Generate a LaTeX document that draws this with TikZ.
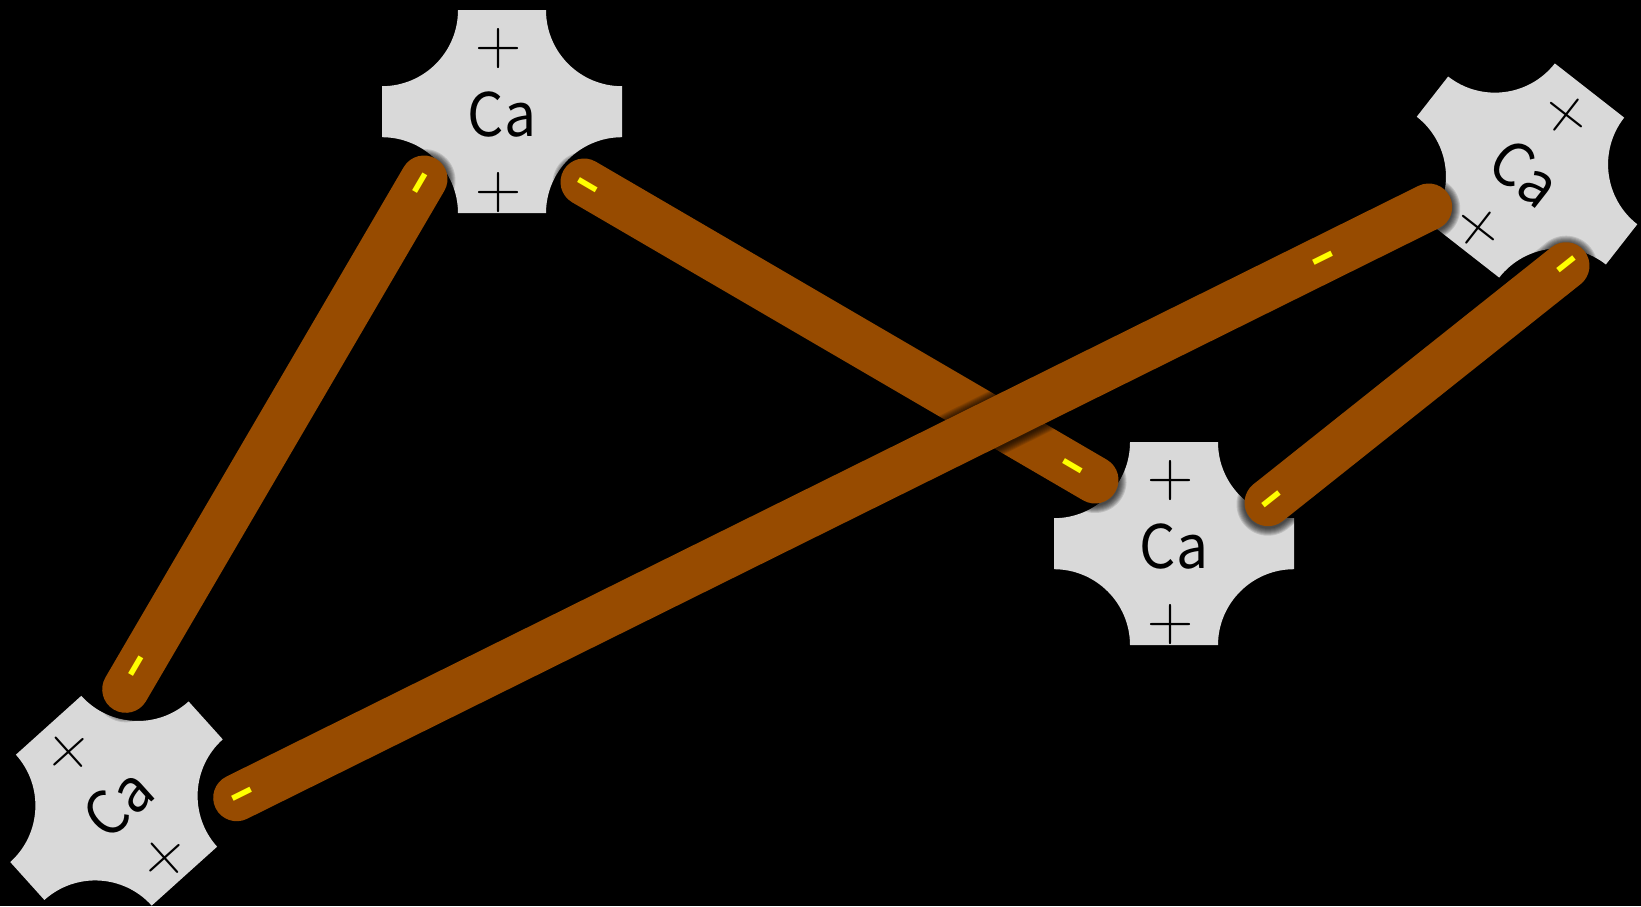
\documentclass[tikz,border=0pt]{standalone}
\usepackage{fontspec}
\newfontfamily\jpfont{Noto Sans CJK JP}
\definecolor{rodbrown}{RGB}{151,75,0}
\definecolor{cagray}{RGB}{217,217,217}
\definecolor{chargeyellow}{RGB}{255,255,0}
\tikzset{
  ionbody/.style={fill=cagray},
  calabel/.style={font=\jpfont\fontsize{60}{62}\selectfont, inner sep=0pt, transform shape, xscale=0.95},
  plusmark/.style={font=\fontsize{64}{66}\selectfont, inner sep=0pt, transform shape},
  rod/.style={draw=rodbrown, line width=47pt, line cap=round},
  rodshade/.style={draw=black, opacity=0.12, line cap=round},
  minus/.style={font=\jpfont\fontsize{80}{82}\selectfont, text=chargeyellow, inner sep=0pt},
}
\newcommand\caion[6]{%
  \begin{scope}[shift={(#2,#3)}, rotate=#4]
    \path[ionbody] (-44,101.5) -- (44,101.5) arc[start angle=180,end angle=270,radius=76pt]
      -- (120,-25.5) arc[start angle=90,end angle=180,radius=76pt]
      -- (-44,-101.5) arc[start angle=0,end angle=90,radius=76pt]
      -- (-120,25.5) arc[start angle=270,end angle=360,radius=76pt] -- cycle;
    \node[calabel] (#1) at (0,-3) {Ca};
    \node[plusmark] (#1p1) at (-3,#5) {+};
    \node[plusmark] (#1p2) at (-3,#6) {+};
  \end{scope}}
\newcommand\rodshadow[2]{%
  \foreach \w in {49,51,...,63}{\draw[rodshade, line width=\w pt] ([yshift=-1.5pt]#1) -- ([yshift=-1.5pt]#2);}}
\begin{document}
\begin{tikzpicture}[x=1pt,y=1pt]
\useasboundingbox (0,0) rectangle (1641,-906);
\fill[black] (0,0) rectangle (1641,-906);
% calcium ions
\caion{caTop}{502}{-111.7}{0}{62.7}{-81}
\caion{caMid}{1174}{-543.7}{0}{63}{-80.5}
\caion{caLeft}{116.5}{-800.7}{42}{68}{-75}
\caion{caRight}{1527}{-170.5}{-38}{67.5}{-75}
% rod ends
\coordinate (A1) at (424,-179);
\coordinate (A2) at (125.7,-689.3);
\coordinate (B1) at (584,-182);
\coordinate (B2) at (1095,-480);
\coordinate (C1) at (1428.7,-207);
\coordinate (C2) at (236.7,-797.7);
\coordinate (D1) at (1268,-502.7);
\coordinate (D2) at (1566,-265.7);
% rods
\rodshadow{A1}{A2}
\draw[rod] (A1) -- (A2);
\rodshadow{B1}{B2}
\draw[rod] (B1) -- (B2);
\rodshadow{D1}{D2}
\draw[rod] (D1) -- (D2);
\rodshadow{C1}{C2}
\draw[rod] (C1) -- (C2);
% charges
\node[minus, rotate=59.7] (mA1) at (421.7,-184.3) {\smash{\raisebox{-0.26em}{-}}};
\node[minus, rotate=59.7] (mA2) at (137.7,-666.7) {\smash{\raisebox{-0.26em}{-}}};
\node[minus, rotate=-30.3] (mB1) at (587.3,-186.7) {\smash{\raisebox{-0.26em}{-}}};
\node[minus, rotate=-30.3] (mB2) at (1071.7,-467.7) {\smash{\raisebox{-0.26em}{-}}};
\node[minus, rotate=26.4] (mC1) at (1323.3,-260) {\smash{\raisebox{-0.26em}{-}}};
\node[minus, rotate=26.4] (mC2) at (242.3,-795.7) {\smash{\raisebox{-0.26em}{-}}};
\node[minus, rotate=38.5] (mD1) at (1272.7,-500.7) {\smash{\raisebox{-0.26em}{-}}};
\node[minus, rotate=38.5] (mD2) at (1567.7,-266) {\smash{\raisebox{-0.26em}{-}}};
\end{tikzpicture}
\end{document}
